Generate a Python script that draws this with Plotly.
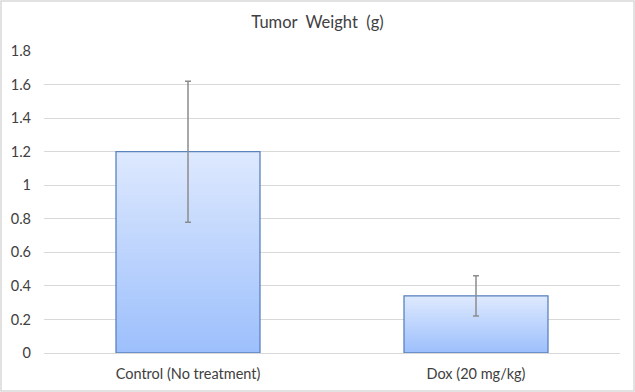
import plotly.graph_objects as go
import numpy as np

categories = ["Control (No treatment)", "Dox (20 mg/kg)"]
values = [1.2, 0.34]
errors = [0.42, 0.12]
y_ticks = [0, 0.2, 0.4, 0.6, 0.8, 1, 1.2, 1.4, 1.6, 1.8]
y_tick_labels = ["0", "0.2", "0.4", "0.6", "0.8", "1", "1.2", "1.4", "1.6", "1.8"]
title_text = "Tumor\u00a0 Weight\u00a0 (g)"

top_rgb = np.array([222, 233, 254])
bottom_rgb = np.array([156, 191, 252])
N = 60

fig = go.Figure()
for i in range(N):
    frac = (i + 0.5) / N
    c = bottom_rgb + (top_rgb - bottom_rgb) * frac
    color = "rgb(%d,%d,%d)" % tuple(c.round().astype(int))
    fig.add_trace(go.Bar(
        x=categories,
        y=[v * (N - i) / N for v in values],
        base=[v * i / N for v in values],
        marker=dict(color=color, line=dict(width=0)),
        width=0.5,
        showlegend=False,
        hoverinfo="skip",
    ))

fig.add_trace(go.Bar(
    x=categories,
    y=values,
    marker=dict(color="rgba(0,0,0,0)", line=dict(color="#5B83BD", width=1.3)),
    width=0.5,
    error_y=dict(type="data", array=errors, visible=True, color="#8C8C8C", thickness=1.5, width=3),
    showlegend=False,
))

W, H = 635, 392
ml, mr, mt, mb = 44, 15, 51, 39
pw, ph = W - ml - mr, H - mt - mb

fig.update_layout(
    width=W, height=H,
    margin=dict(l=ml, r=mr, t=mt, b=mb),
    barmode="overlay",
    paper_bgcolor="white",
    plot_bgcolor="white",
    font=dict(family="Lato, 'Open Sans', sans-serif", size=15, color="#404040"),
    title=dict(text=title_text, x=0.5, xanchor="center", y=1 - 22 / H, yanchor="middle",
               font=dict(size=16.5, color="#404040")),
    xaxis=dict(showgrid=False, showline=False, ticks="", automargin=False, ticklabelstandoff=10,
               tickfont=dict(size=14.5, color="#404040")),
    yaxis=dict(range=[0, 1.8], tickvals=y_ticks, ticktext=y_tick_labels, showgrid=True,
               gridcolor="#D9D9D9", gridwidth=1, zeroline=True, zerolinecolor="#D9D9D9",
               zerolinewidth=1, showline=False, ticks="", ticklabelstandoff=12, automargin=False,
               tickfont=dict(size=14.5, color="#404040")),
    shapes=[dict(type="rect", xref="paper", yref="paper",
                 x0=-(ml - 1) / pw, x1=1 + (mr - 1) / pw,
                 y0=-(mb - 1) / ph, y1=1 + (mt - 1) / ph,
                 line=dict(color="#D9D9D9", width=1.5), fillcolor="rgba(0,0,0,0)", layer="below")],
)

fig.write_html("out.html", config={"displayModeBar": False},
               post_script="document.body.style.margin='0';document.body.style.overflow='hidden';")
